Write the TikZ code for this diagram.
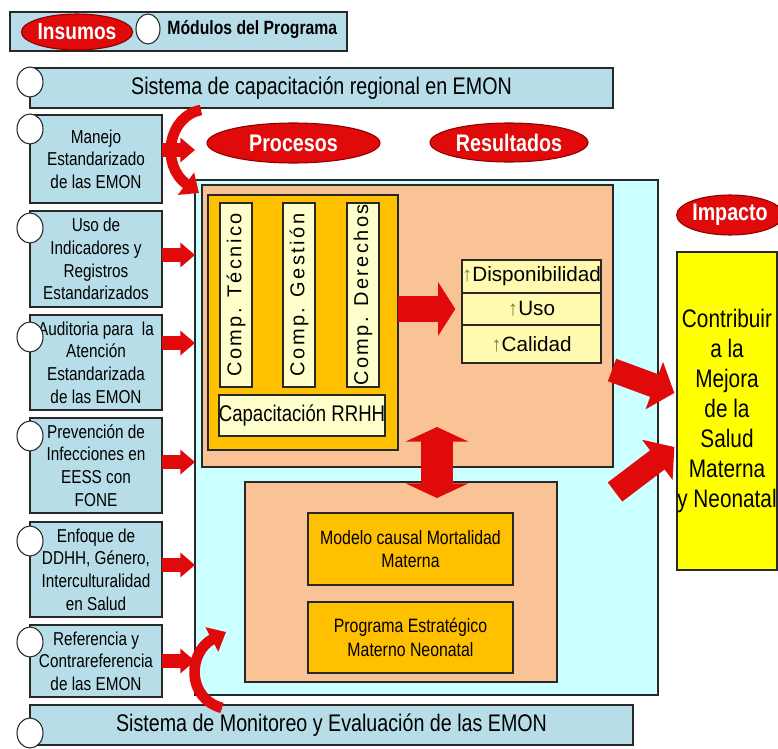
\documentclass[tikz,border=0pt]{standalone}
\usepackage{fontspec}
\setmainfont{Liberation Sans}
\newfontfamily\narrowfont{Liberation Sans}[FakeStretch=0.82]
\newfontfamily\spacedfont{Liberation Sans}[LetterSpace=12]
\usetikzlibrary{shapes.geometric, arrows.meta, positioning}
\definecolor{boxblue}{RGB}{183,221,232}
\definecolor{palecyan}{RGB}{204,255,255}
\definecolor{salmon}{RGB}{250,195,150}
\definecolor{gold}{RGB}{255,192,0}
\definecolor{paleyellow}{RGB}{255,255,204}
\definecolor{resyellow}{RGB}{255,250,175}
\definecolor{impyellow}{RGB}{255,255,0}
\definecolor{redarrow}{RGB}{225,10,10}
\definecolor{edge}{RGB}{40,40,40}
\definecolor{upgreen}{RGB}{110,140,60}
\newcommand{\up}{{\color{upgreen}↑}}

\begin{document}
\begin{tikzpicture}[
  x=0.75pt, y=-0.75pt,
  wh/.style 2 args={minimum width=#1*0.75pt, minimum height=#2*0.75pt},
  box/.style={rectangle, draw=edge, line width=1pt, fill=#1, inner sep=0pt, outer sep=0pt, align=center},
  modbox/.style={box=boxblue, font=\narrowfont\fontsize{14}{17}\selectfont},
  bar/.style={box=boxblue, font=\narrowfont\fontsize{18}{20}\selectfont},
  tag/.style={ellipse, draw=red!55!black, line width=0.8pt, fill=redarrow, text=white, inner sep=0pt,
    font=\narrowfont\bfseries\fontsize{18}{20}\selectfont},
  knob/.style={ellipse, draw=edge, fill=white, line width=0.8pt, wh={26}{30}, inner sep=0pt},
  comp/.style={box=paleyellow, rotate=90, wh={184}{32}, font=\spacedfont\fontsize{15}{15}\selectfont},
  res/.style={box=resyellow, minimum width=139*0.75pt, font=\fontsize{15.5}{17}\selectfont},
  inarrow/.style={draw=redarrow, line width=10pt, -{Triangle[length=11pt, width=18pt]}},
  bentarrow/.style={draw=redarrow, line width=8pt, -{Triangle[length=12pt, width=20pt]}},
  mainarrow/.style={draw=redarrow, line width=19pt, -{Triangle[length=13pt, width=40pt]}},
  dblarrow/.style={draw=redarrow, line width=24pt, {Triangle[length=11pt, width=47pt]}-{Triangle[length=11pt, width=47pt]}},
  diagarrow/.style={draw=redarrow, line width=18pt, -{Triangle[length=16pt, width=37pt]}}
]
\useasboundingbox (0,0) rectangle (778,749);

% legend
\node[box=boxblue, wh={337}{39}] (legend) at (178.5,31.5) {};
\node[tag, wh={98}{36}, font=\narrowfont\bfseries\fontsize{17.5}{20}\selectfont] (insumos) at (77,32) {Insumos};
\node[knob, wh={24}{30}] (modknob) at (148,29) {};
\node[right=5pt of modknob, inner sep=0pt, font=\narrowfont\bfseries\fontsize{14.4}{16}\selectfont] (modulos) {Módulos del Programa};

% system bars
\node[bar, wh={583}{40}] (capbar) at (321.5,88) {Sistema de capacitación regional en EMON};
\node[knob] (capknob) at (30,82) {};
\node[bar, wh={603}{40}] (mebar) at (331.5,725) {Sistema de Monitoreo y Evaluación de las EMON};
\node[knob] (meknob) at (30,733) {};

% main frame and process block
\node[box=palecyan, wh={463}{515}] (frame) at (426.5,437.5) {};
\node[box=salmon, wh={411}{282}] (procbox) at (407.5,326) {};
\node[box=gold, wh={190}{255}] (compbox) at (303,322.5) {};
\node[comp] (tec) at (236,295) {Comp. Técnico};
\node[comp] (ges) at (299,295) {Comp. Gestión};
\node[comp] (der) at (363,295) {Comp. Derechos};
\node[box=paleyellow, wh={164}{41}, font=\narrowfont\fontsize{17}{17}\selectfont] (rrhh) at (302,415.5) {Capacitación RRHH};

% results
\node[res, minimum height=33*0.75pt] (disp) at (531.5,276.5) {\up Disponibilidad};
\node[res, minimum height=32*0.75pt, below=0pt of disp] (uso) {\up Uso};
\node[res, minimum height=38*0.75pt, below=0pt of uso] (cal) {\up Calidad};

% causal block
\node[box=salmon, wh={312}{200}] (causebox) at (401,582) {};
\node[box=gold, wh={205}{72}, font=\narrowfont\fontsize{14.5}{17.5}\selectfont] (modelo) at (410.5,549) {Modelo causal Mortalidad\\Materna};
\node[box=gold, wh={205}{71}, font=\narrowfont\fontsize{14.5}{17.5}\selectfont] (pesmn) at (410.5,637.5) {Programa Estratégico\\Materno Neonatal};

% program modules
\node[modbox, wh={132}{88}] (manejo) at (96,159) {Manejo\\Estandarizado\\de las EMON};
\node[modbox, wh={132}{96}] (indic) at (96,259) {Uso de\\Indicadores y\\Registros\\Estandarizados};
\node[modbox, wh={132}{95}] (audit) at (96,362.5) {Auditoria para \ la\\Atención\\Estandarizada\\de las EMON};
\node[modbox, wh={132}{95}] (infec) at (96,465.5) {Prevención de\\Infecciones en\\EESS con\\FONE};
\node[modbox, wh={132}{95}] (ddhh) at (96,569.5) {Enfoque de\\DDHH, Género,\\Interculturalidad\\en Salud};
\node[modbox, wh={132}{72}] (refer) at (96,661) {Referencia y\\Contrareferencia\\de las EMON};
\node[knob] (manejoknob) at (30,129) {};
\node[knob] (indicknob) at (30,228) {};
\node[knob] (auditknob) at (30,337) {};
\node[knob] (infecknob) at (30,436) {};
\node[knob] (ddhhknob) at (30,541) {};
\node[knob] (referknob) at (30,642) {};

% headings
\node[tag, wh={173}{40}] (procesos) at (293.5,143) {Procesos};
\node[tag, wh={158}{39}] (resultados) at (509,142.5) {Resultados};
\node[tag, wh={94}{40}] (impacto) at (730,215) {Impacto};
\node[box=impyellow, wh={100}{318}, font=\narrowfont\fontsize{19}{22.5}\selectfont] (contrib) at (727,411) {Contribuir\\a la\\Mejora\\de la\\Salud\\Materna\\y Neonatal};

% inputs into the frame
\draw[inarrow] ([yshift=6.75pt]manejo.east) -- ([yshift=6.75pt]manejo.east -| frame.west);
\draw[inarrow] ([yshift=3pt]indic.east) -- ([yshift=3pt]indic.east -| frame.west);
\draw[inarrow] ([yshift=14.6pt]audit.east) -- ([yshift=14.6pt]audit.east -| frame.west);
\draw[inarrow] ([yshift=2.6pt]infec.east) -- ([yshift=2.6pt]infec.east -| frame.west);
\draw[inarrow] ([yshift=3.4pt]ddhh.east) -- ([yshift=3.4pt]ddhh.east -| frame.west);
\draw[inarrow] (refer.east) -- (refer.east -| frame.west);

% bent arrows from the system bars
\coordinate (mtail) at (201,110);
\coordinate (mhead) at (199,193);
\draw[bentarrow] (mtail) .. controls (168,116) and (160,165) .. (mhead);
\coordinate (rtail) at (222,708);
\coordinate (rhead) at (226,632);
\draw[bentarrow] (rtail) .. controls (186,698) and (188,652) .. (rhead);

% flows
\draw[mainarrow] (compbox.east |- uso) -- ([xshift=-5pt]uso.west);
\coordinate (dtop) at (437,427);
\coordinate (dbot) at (437,498);
\draw[dblarrow] (dtop) -- (dbot);
\coordinate (d1) at (612,370);
\coordinate (d2) at (615,492);
\draw[diagarrow] (d1) -- ([yshift=13.5pt,xshift=-2pt]contrib.west);
\draw[diagarrow] (d2) -- ([yshift=-27pt,xshift=-2pt]contrib.west);
\end{tikzpicture}
\end{document}
